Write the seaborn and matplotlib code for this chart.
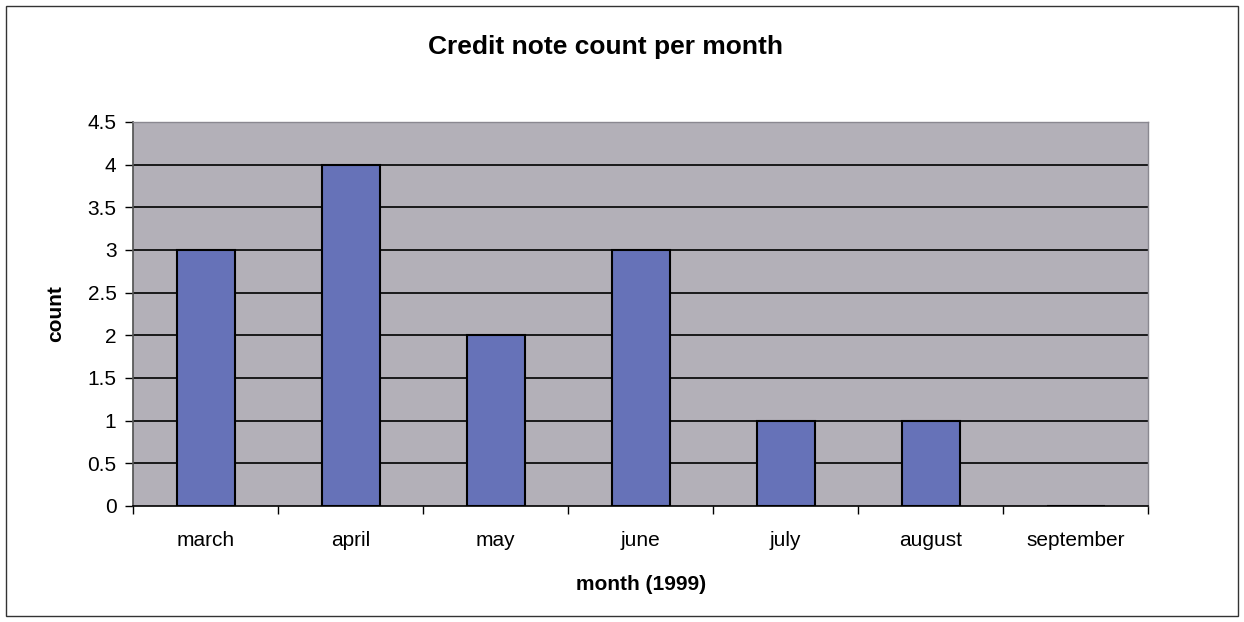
import matplotlib
matplotlib.use("Agg")
import matplotlib.pyplot as plt
import seaborn as sns
import pandas as pd
from matplotlib.patches import Rectangle

months = ["march", "april", "may", "june", "july", "august", "september"]
counts = [3, 4, 2, 3, 1, 1, 0]
yticks = [0, 0.5, 1, 1.5, 2, 2.5, 3, 3.5, 4, 4.5]
ytick_labels = ["0", "0.5", "1", "1.5", "2", "2.5", "3", "3.5", "4", "4.5"]

sns.set_theme(style="white")
plt.rcParams['font.family'] = ['Liberation Sans', 'DejaVu Sans']

df = pd.DataFrame({"month": months, "count": counts})

fig = plt.figure(figsize=(12.44, 6.22), dpi=100)
ax = fig.add_axes([0.107, 0.1865, 0.816, 0.6175])
ax.set_facecolor("#b3b0b8")

sns.barplot(data=df, x="month", y="count", color="#6672b8", width=0.4,
            edgecolor="black", linewidth=1.5, saturation=1, ax=ax, zorder=3)

ax.set_ylim(0, 4.5)
ax.set_xlim(-0.5, len(months) - 0.5)
ax.set_yticks(yticks)
ax.set_yticklabels(ytick_labels)
for y in yticks[1:]:
    ax.axhline(y, color="black", linewidth=1.2, zorder=1)

ax.set_xticks(range(len(months)))
ax.set_xticklabels(months)
ax.tick_params(axis="x", length=0, labelsize=15, pad=18, colors="black")
ax.set_xticks([i - 0.5 for i in range(len(months) + 1)], minor=True)
ax.tick_params(axis="x", which="minor", length=6, width=1, color="black", direction="out", bottom=True)
ax.tick_params(axis="y", length=6, width=1, color="black", direction="out", left=True,
               labelsize=15, pad=6, labelcolor="black")

for s in ["top", "right"]:
    ax.spines[s].set_color("#8a8890")
    ax.spines[s].set_linewidth(1)
ax.spines["left"].set_color("#555555")
ax.spines["bottom"].set_color("black")
ax.spines["bottom"].set_linewidth(1.2)

ax.set_xlabel("month (1999)", fontsize=15, fontweight="bold", labelpad=18, color="black")
ax.set_ylabel("count", fontsize=15, fontweight="bold", labelpad=16, color="black")
fig.text(0.487, 0.925, "Credit note count per month", ha="center", va="center",
         fontsize=19, fontweight="bold", color="black")

fig.patches.append(Rectangle((0.005, 0.01), 0.99, 0.98, transform=fig.transFigure,
                             fill=False, edgecolor="#333333", linewidth=1))

fig.savefig("out.png", dpi=100)
